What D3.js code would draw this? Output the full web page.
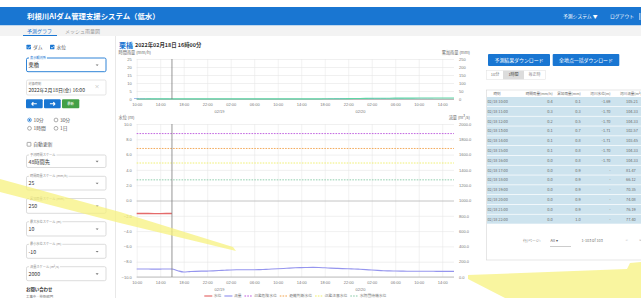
<!DOCTYPE html>
<html lang="ja"><head><meta charset="utf-8">
<script src="https://cdn.jsdelivr.net/npm/d3@7/dist/d3.min.js"></script>
<style>
html,body{margin:0;padding:0;overflow:hidden;background:#fff;width:641px;height:298px;}
svg{display:block;font-family:"Noto Sans CJK JP","Noto Sans",sans-serif;}
</style></head>
<body>
<svg id="c" width="641" height="298" viewBox="0 0 641 298"></svg>
<script>
// ===== DATA =====
const startTime = new Date(2022, 1, 18, 10, 0);
const endTime = new Date(2022, 1, 20, 16, 0);
const currentTime = new Date(2022, 1, 18, 16, 0);

// hourly, 02/18 10:00 .. 02/20 16:00
const rainHourly = [0.4,0.3,0.2,0.1,0.1,0.1,0.0,0.0,0.0,0.0,0.0,0.0,0.0,0.0,
  0,0,0,0,0,0,0,0,0,0,0,0,0,0,0,0,0,0,
  0.1,0.2,0.3,0.4,0.5,0.5,
  0.5,0.4,0.4,0.3,0.3,0.2,0.2,0.2,0.1,0.1,0.1,0.1,0.1,0.0,0.0,0.0,0.0];
const rainCumulative = [0.1,0.3,0.5,0.7,0.8,0.8,0.8,0.9,0.9,0.9,0.9,0.9,1.0,1.0,
  1.0,1.0,1.0,1.0,1.0,1.0,1.0,1.0,1.0,1.0,1.0,1.0,1.0,1.0,1.0,1.0,1.0,1.0,
  1.1,1.3,1.6,2.0,2.5,3.0,
  3.5,3.9,4.3,4.6,4.9,5.1,5.3,5.5,5.6,5.7,5.8,5.9,6.0,6.0,6.0,6.0,6.0];
const riverFlow = [105.21,104.33,104.33,102.57,103.45,104.33,104.33,
  81.47,66.12,70.35,74.08,76.19,77.40,80,
  84,88,92,94,95,95,95,97,100,104,108,112,116,120,123,125,126,124,120,116,113,110,108,105,
  101,96,91,86,82,80,78,77,76,76,75,75,75,74,74,74,73];
const waterLevelObs = [-1.69,-1.70,-1.70,-1.71,-1.71,-1.70,-1.70];

const thresholdNames = ["氾濫危険水位","避難判断水位","氾濫注意水位","水防団待機水位"];
const thresholdLevels = [8.75, 6.8, 4.9, 2.7];
const thresholdColors = ["#bb55dd","#f2a24a","#eeee66","#86c9a6"];

const rainTicks = [0,5,10,15,20,25];
const cumTicks = [0,50,100,150,200,250];
const levelTicks = [10,8,6,4,2,0,-2,-4,-6,-8,-10];
const flowTicks = [0,200,400,600,800,1000,1200,1400,1600,1800,2000];
const tableRowCount = 13;
const tableHeaders = ["時刻","時間雨量(mm/h)","累加雨量(mm)","河川水位(m)","河川流量(m³/s)"];

// ===== HELPERS =====
const svg = d3.select("#c");
function T(g, x, y, s, size, fill, o = {}) {
  return g.append("text").attr("x", x).attr("y", y).attr("dy", "0.36em")
    .attr("font-size", size).attr("fill", fill)
    .attr("font-weight", o.bold ? 700 : null)
    .attr("text-anchor", o.anchor || "start").text(s);
}
const hours = d3.range(rainHourly.length).map(i => d3.timeHour.offset(startTime, i));

// ===== HEADER =====
svg.append("rect").attr("x", 0).attr("y", 7).attr("width", 641).attr("height", 18.5).attr("fill", "#1976d2");
T(svg, 27, 16.2, "利根川AIダム管理支援システム（低水）", 7.4, "#fff", {bold: true});
T(svg, 563, 16.5, "予測システム ▼", 4.8, "#fff");
T(svg, 610, 16.5, "ログアウト", 4.8, "#fff");
svg.append("rect").attr("x", 639.5).attr("y", 13).attr("width", 0.8).attr("height", 7).attr("fill", "#fff");
svg.append("rect").attr("x", 0).attr("y", 25.5).attr("width", 641).attr("height", 10.5).attr("fill", "#f3f3f3");
T(svg, 27, 30.8, "予測グラフ", 5, "#1976d2");
svg.append("rect").attr("x", 23).attr("y", 35).attr("width", 34).attr("height", 1).attr("fill", "#1976d2");
T(svg, 65, 30.8, "メッシュ雨量図", 5, "#9a9a9a");

// ===== LEFT PANEL =====
const lp = svg.append("g");
function checkbox(x, y, label, checked) {
  if (checked) {
    lp.append("rect").attr("x", x).attr("y", y - 2.2).attr("width", 4.4).attr("height", 4.4).attr("rx", 0.5).attr("fill", "#1976d2");
    lp.append("path").attr("d", `M${x+0.9},${y} l1.2,1.2 l1.9,-2.1`).attr("stroke", "#fff").attr("stroke-width", 0.7).attr("fill", "none");
  } else {
    lp.append("rect").attr("x", x + 0.3).attr("y", y - 1.9).attr("width", 3.8).attr("height", 3.8).attr("rx", 0.4)
      .attr("fill", "none").attr("stroke", "#777").attr("stroke-width", 0.6);
  }
  T(lp, x + 6.5, y, label, 4.8, "#555");
}
checkbox(26.5, 47, "ダム", true);
checkbox(50, 47, "水位", true);

function field(y0, y1, label, value, focus) {
  const g = lp.append("g");
  g.append("rect").attr("x", 26.5).attr("y", y0).attr("width", 79.5).attr("height", y1 - y0).attr("rx", 1.5)
    .attr("fill", "#fff").attr("stroke", focus ? "#1976d2" : "#c4c4c4").attr("stroke-width", focus ? 0.9 : 0.6);
  const bg = g.append("rect").attr("fill", "#fff");
  const t = T(g, 30, y0, label, 3.2, focus ? "#1976d2" : "#888");
  const w = t.node().getComputedTextLength();
  bg.attr("x", 29).attr("y", y0 - 1.2).attr("width", w + 2).attr("height", 2.4);
  const m = (y0 + y1) / 2 + 0.4;
  T(g, 28.5, m, value, 5.2, "#333");
  g.append("path").attr("d", `M95.6,${m - 0.8} l3,0 l-1.5,1.6z`).attr("fill", "#777");
}
field(58, 71.7, "表示観測所", "栗橋", true);

// date field
lp.append("rect").attr("x", 26.5).attr("y", 80).attr("width", 79.5).attr("height", 15).attr("rx", 1.5)
  .attr("fill", "#fff").attr("stroke", "#d4d4d4").attr("stroke-width", 0.6);
T(lp, 28.5, 83.6, "対象時刻", 3.2, "#888");
T(lp, 28.5, 90, "2022年2月18日(金) 16:00", 5, "#333");
T(lp, 97, 86.5, "×", 5, "#aaa", {anchor: "middle"});

// nav buttons
lp.append("rect").attr("x", 26).attr("y", 99.3).attr("width", 16.7).attr("height", 9).attr("rx", 1).attr("fill", "#1976d2");
lp.append("rect").attr("x", 44).attr("y", 99.3).attr("width", 16.7).attr("height", 9).attr("rx", 1).attr("fill", "#1976d2");
lp.append("rect").attr("x", 62).attr("y", 99.3).attr("width", 17.3).attr("height", 9).attr("rx", 1).attr("fill", "#43a047");
lp.append("path").attr("d", "M31.6,103.8 l5.2,0 M31.6,103.8 l1.8,-1.7 M31.6,103.8 l1.8,1.7").attr("stroke", "#fff").attr("stroke-width", 1.1).attr("fill", "none");
lp.append("path").attr("d", "M55.1,103.8 l-5.2,0 M55.1,103.8 l-1.8,-1.7 M55.1,103.8 l-1.8,1.7").attr("stroke", "#fff").attr("stroke-width", 1.1).attr("fill", "none");
T(lp, 70.6, 103.8, "最新", 3.4, "#fff", {anchor: "middle"});

// radios
function radio(x, y, label, on) {
  lp.append("circle").attr("cx", x).attr("cy", y).attr("r", 1.9).attr("fill", "none")
    .attr("stroke", on ? "#1976d2" : "#777").attr("stroke-width", 0.6);
  if (on) lp.append("circle").attr("cx", x).attr("cy", y).attr("r", 1).attr("fill", "#1976d2");
  T(lp, x + 4, y, label, 4.8, "#555");
}
radio(29.5, 120, "10分", true);
radio(56, 120, "30分", false);
radio(29.5, 128.3, "1時間", false);
radio(56, 128.3, "1日", false);
checkbox(26.8, 144.3, "自動更新", false);

field(155, 167.5, "予測時間スケール", "48時間先");
field(176.3, 190, "時間雨量スケール (mm/h)", "25");
field(198.5, 213.3, "累加雨量スケール (mm)", "250");
field(221.7, 236, "最大水位スケール (m)", "10");
field(244.3, 258.3, "最小水位スケール (m)", "-10");
field(266.7, 280.7, "流量スケール (m³/s)", "2000");
T(lp, 26, 289.5, "お問い合わせ", 4.4, "#333", {bold: true});
T(lp, 26, 296.5, "工事中 · 技術部門", 3.4, "#777");
svg.append("line").attr("x1", 115.5).attr("x2", 115.5).attr("y1", 36).attr("y2", 298).attr("stroke", "#e2e2e2").attr("stroke-width", 0.8);

// ===== MAIN CHART =====
const X0 = 136.7, X1 = 454;
const U_TOP = 59, U_BOT = 99, L_TOP = 124, L_BOT = 277;
const x = d3.scaleTime().domain([startTime, endTime]).range([X0, X1]);
const yRain = d3.scaleLinear().domain([0, 25]).range([U_BOT, U_TOP]);
const yCum = d3.scaleLinear().domain([0, 250]).range([U_BOT, U_TOP]);
const yLevel = d3.scaleLinear().domain([-10, 10]).range([L_BOT, L_TOP]);
const yFlow = d3.scaleLinear().domain([0, 2000]).range([L_BOT, L_TOP]);
const xTicks = d3.timeHour.range(startTime, endTime, 4);
const midnights = d3.timeDay.range(d3.timeHour.offset(startTime, 1), endTime);

const mc = svg.append("g");
T(mc, 119, 45.8, "栗橋", 7, "#1976d2", {bold: true});
T(mc, 135, 45.5, "2022年02月18日 16時00分", 5.4, "#333", {bold: true});
T(mc, 118.5, 52.6, "時間雨量 (mm/h)", 4.2, "#666");
T(mc, 470, 52.6, "累加雨量 (mm)", 4.2, "#666", {anchor: "end"});
T(mc, 118.5, 117.2, "水位 (m)", 4.2, "#666");
T(mc, 470, 117.2, "流量 (m³/s)", 4.2, "#666", {anchor: "end"});

function styleAxis(g, size) {
  g.select(".domain").remove();
  g.selectAll("text").attr("font-size", size).attr("fill", "#777").attr("font-family", null);
}
function panel(top, bot, yL, yR, tL, tR, fmtL, fmtR, zeroVal) {
  // grid
  mc.append("g").attr("transform", `translate(0,${bot})`)
    .call(d3.axisBottom(x).tickValues(xTicks).tickSize(-(bot - top)).tickFormat(""))
    .call(g => { g.select(".domain").remove(); g.selectAll("line").attr("stroke", "#e9e9e9").attr("stroke-width", 0.6); });
  mc.append("g").attr("transform", `translate(${X0},0)`)
    .call(d3.axisLeft(yL).tickValues(tL).tickSize(-(X1 - X0)).tickFormat(""))
    .call(g => { g.select(".domain").remove();
      g.selectAll(".tick line").attr("stroke", d => d === zeroVal ? "#bdbdbd" : "#e6e6e6").attr("stroke-width", d => d === zeroVal ? 0.9 : 0.6); });
  mc.append("line").attr("x1", X0).attr("x2", X1).attr("y1", bot).attr("y2", bot).attr("stroke", "#b0b0b0").attr("stroke-width", 0.8);
  // labels
  mc.append("g").attr("transform", `translate(${X0},0)`)
    .call(d3.axisLeft(yL).tickValues(tL).tickSize(0).tickPadding(5).tickFormat(fmtL))
    .call(g => styleAxis(g, 4));
  mc.append("g").attr("transform", `translate(${X1},0)`)
    .call(d3.axisRight(yR).tickValues(tR).tickSize(0).tickPadding(5).tickFormat(fmtR))
    .call(g => styleAxis(g, 4));
  mc.append("g").attr("transform", `translate(0,${bot})`)
    .call(d3.axisBottom(x).tickValues(xTicks).tickSize(0).tickFormat(d3.timeFormat("%H:%M")))
    .call(g => { styleAxis(g, 4); g.selectAll("text").attr("y", 5.2).attr("dy", "0.36em"); });
  mc.append("g").attr("transform", `translate(0,${bot})`)
    .call(d3.axisBottom(x).tickValues(midnights).tickSize(0).tickFormat(d3.timeFormat("%m/%d")))
    .call(g => { styleAxis(g, 4); g.selectAll("text").attr("y", 12.3).attr("dy", "0.36em"); });
}
panel(U_TOP, U_BOT, yRain, yCum, rainTicks, cumTicks, d3.format("d"), d3.format("d"), 0);
panel(L_TOP, L_BOT, yLevel, yFlow, levelTicks, flowTicks, d3.format(".1f"), d3.format(".1f"), 0);

// upper chart data
mc.append("g").selectAll("rect").data(hours.map((h, i) => [h, rainHourly[i]]).filter(d => d[1] > 0)).join("rect")
  .attr("x", d => x(d[0]) - 2.7).attr("width", 5.4)
  .attr("y", d => yRain(d[1])).attr("height", d => U_BOT - yRain(d[1]))
  .attr("fill", "#5b7fe0").attr("opacity", 0.85);
mc.append("path").datum(hours.map((h, i) => [h, rainCumulative[i]]))
  .attr("d", d3.line().x(d => x(d[0])).y(d => yCum(d[1])))
  .attr("fill", "none").attr("stroke", "#5ed6a6").attr("stroke-width", 1.1);

// lower chart data
thresholdLevels.forEach((v, i) => {
  mc.append("line").attr("x1", X0).attr("x2", X1).attr("y1", yLevel(v)).attr("y2", yLevel(v))
    .attr("stroke", thresholdColors[i]).attr("stroke-width", 0.9).attr("stroke-dasharray", "1.6,1.2");
});
mc.append("path").datum(hours.map((h, i) => [h, riverFlow[i]]))
  .attr("d", d3.line().x(d => x(d[0])).y(d => yFlow(d[1])).curve(d3.curveMonotoneX))
  .attr("fill", "none").attr("stroke", "#9595ee").attr("stroke-width", 1.1);
mc.append("path").datum(waterLevelObs.map((v, i) => [hours[i], v]))
  .attr("d", d3.line().x(d => x(d[0])).y(d => yLevel(d[1])))
  .attr("fill", "none").attr("stroke", "#e46a6a").attr("stroke-width", 1.4);

// current time line
[[U_TOP, U_BOT], [L_TOP, L_BOT]].forEach(([a, b]) =>
  mc.append("line").attr("x1", x(currentTime)).attr("x2", x(currentTime)).attr("y1", a).attr("y2", b)
    .attr("stroke", "#7a7a7a").attr("stroke-width", 0.8));

// legend
const legendItems = [
  {name: "水位", color: "#e46a6a", dash: null},
  {name: "流量", color: "#9595ee", dash: null},
].concat(thresholdNames.map((n, i) => ({name: n, color: thresholdColors[i], dash: "1.6,1.2"})));
const lg = mc.append("g");
let lx = 0;
legendItems.forEach(it => {
  lg.append("line").attr("x1", lx).attr("x2", lx + 8).attr("y1", 0).attr("y2", 0)
    .attr("stroke", it.color).attr("stroke-width", 1.2).attr("stroke-dasharray", it.dash);
  const t = T(lg, lx + 9.5, 0, it.name, 3.8, "#777");
  lx += 9.5 + t.node().getComputedTextLength() + 3;
});
lg.attr("transform", `translate(${(X0 + X1) / 2 - (lx - 3) / 2},296)`);

// ===== RIGHT PANEL =====
const rp = svg.append("g");
function btn(x0, x1, label) {
  rp.append("rect").attr("x", x0).attr("y", 54).attr("width", x1 - x0).attr("height", 12).attr("rx", 1).attr("fill", "#1976d2");
  T(rp, (x0 + x1) / 2, 60, label, 4.9, "#fff", {anchor: "middle"});
}
btn(488, 550, "予測結果ダウンロード");
btn(552.7, 619.3, "全地点一括ダウンロード");
rp.append("rect").attr("x", 486.5).attr("y", 70.7).attr("width", 59).attr("height", 8.6).attr("fill", "#fff").attr("stroke", "#e0e0e0").attr("stroke-width", 0.5);
rp.append("rect").attr("x", 503).attr("y", 70.7).attr("width", 21).attr("height", 8.6).attr("fill", "#dcdcdc");
T(rp, 495, 75, "10分", 4, "#777", {anchor: "middle"});
T(rp, 513.5, 75, "1時間", 4, "#444", {anchor: "middle"});
T(rp, 534.5, 75, "毎正時", 4, "#888", {anchor: "middle"});

// table
rp.append("rect").attr("x", 486.5).attr("y", 90).attr("width", 200).attr("height", 170).attr("fill", "#fff").attr("stroke", "#d6d6d6").attr("stroke-width", 0.6);
const colX = [497, 552.7, 580.7, 610.5, 620];
const colAnchor = ["middle", "end", "end", "end", "start"];
tableHeaders.forEach((h, i) => T(rp, colX[i], 93.8, h, 3.6, "#666", {anchor: colAnchor[i]}));
const ROW0 = 97, RH = 9.8;
const fmtTime = d3.timeFormat("%m/%d %H:%M");
const rows = d3.range(tableRowCount);
rp.append("g").selectAll("rect").data(rows).join("rect")
  .attr("x", 487).attr("y", i => ROW0 + i * RH).attr("width", 160).attr("height", RH - 0.7).attr("fill", "#cde3ee");
rows.forEach(i => {
  const cy = ROW0 + i * RH + RH / 2 - 0.3;
  T(rp, 487.5, cy, fmtTime(hours[i]), 3.8, "#6d6d6d");
  T(rp, colX[1], cy, rainHourly[i].toFixed(1), 3.9, "#6d6d6d", {anchor: "end"});
  T(rp, colX[2], cy, rainCumulative[i].toFixed(1), 3.9, "#6d6d6d", {anchor: "end"});
  T(rp, colX[3], cy, i < waterLevelObs.length ? waterLevelObs[i].toFixed(2) : "-", 3.9, "#6d6d6d", {anchor: "end"});
  T(rp, 626, cy, riverFlow[i].toFixed(2), 3.9, "#6d6d6d");
});
T(rp, 523, 240.7, "行/ページ:", 3.8, "#777");
T(rp, 550.5, 240.7, "All  ▾", 3.8, "#555");
rp.append("line").attr("x1", 550).attr("x2", 571).attr("y1", 246.5).attr("y2", 246.5).attr("stroke", "#999").attr("stroke-width", 0.5);
T(rp, 581.5, 240.7, "1-103 of 103", 3.8, "#777");
T(rp, 626.7, 240.7, "<", 4.2, "#bbb", {anchor: "middle"});
T(rp, 640.5, 240.7, ">", 4.2, "#888", {anchor: "middle"});

// ===== YELLOW HIGHLIGHTER STROKES (annotation overlay) =====
const hl = svg.append("g").attr("fill", "#f6f17a").attr("opacity", 0.72);
hl.append("path").attr("d", "M0,179 L120,212 L233,247 L236,251 L120,223 L0,192 Z");
hl.append("path").attr("d", "M468,275 L627,269 L630,263 L641,262 L641,298 L505,298 L468,279 Z");
</script>
</body></html>
